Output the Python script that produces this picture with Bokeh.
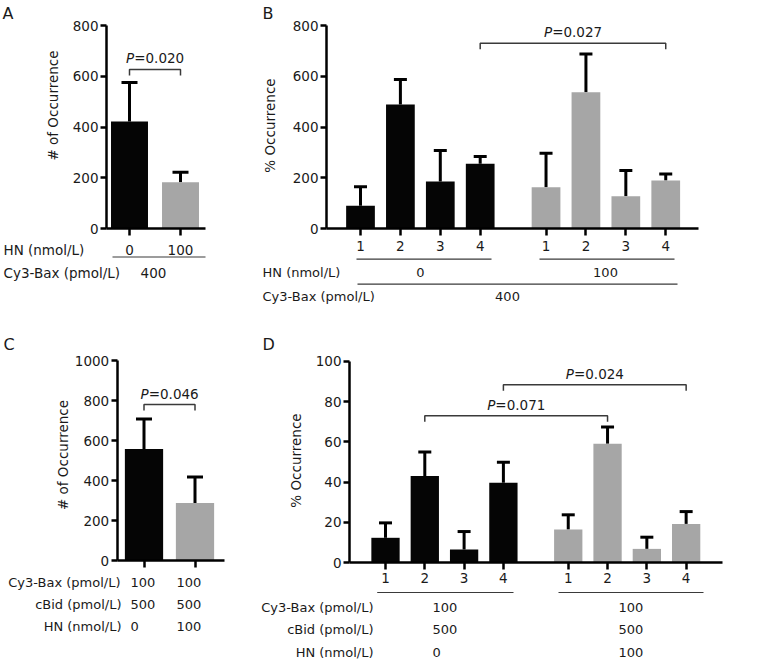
import math
from bokeh.plotting import figure
from bokeh.models import LinearAxis, FixedTicker, Range1d, Whisker, TeeHead, ColumnDataSource
from bokeh.layouts import column, row
from bokeh.embed import file_html
from bokeh.resources import INLINE
from bokeh.core.properties import value

FONT = "DejaVu Sans"
FS = "13px"
TICK_FS = "13.5px"
BLACK = "#050505"
GRAY = "#a6a6a6"
TXT = "#1a1a1a"
LINE = "#3a3a3a"

# ---------------- data ----------------
# Panel A
A_hn = ["0", "100"]
A_mean = [422, 182]
A_sd = [153, 40]
A_p = "0.020"
A_bax = "400"

# Panel B  (conformation classes 1-4, HN 0 vs 100 nmol/L)
B_class = ["1", "2", "3", "4"]
B_hn0_mean = [90, 489, 185, 255]
B_hn0_sd = [75, 98, 122, 29]
B_hn100_mean = [163, 537, 127, 189]
B_hn100_sd = [134, 151, 102, 26]
B_hn = ["0", "100"]
B_bax = "400"
B_p = "0.027"

# Panel C
C_mean = [558, 288]
C_sd = [150, 129]
C_bax = ["100", "100"]
C_cbid = ["500", "500"]
C_hn = ["0", "100"]
C_p = "0.046"

# Panel D
D_class = ["1", "2", "3", "4"]
D_hn0_mean = [12.4, 43, 6.6, 39.7]
D_hn0_sd = [7.4, 11.9, 8.9, 10.2]
D_hn100_mean = [16.5, 59, 6.9, 19.3]
D_hn100_sd = [7.3, 8.3, 5.8, 6.1]
D_bax = ["100", "100"]
D_cbid = ["500", "500"]
D_hn = ["0", "100"]
D_p = ["0.071", "0.024"]

POS_2 = [1, 2]
POS_8 = [1, 2, 3, 4, 5.65, 6.65, 7.65, 8.65]


def lin(pa, va, pb, vb):
    k = (vb - va) / (pb - pa)
    return (lambda p: va + (p - pa) * k), abs(k)


class Panel:
    def __init__(self, box, xm, ym):
        x0, y0, x1, y1 = box
        self.X, self.kx = lin(*xm)
        self.Y, self.ky = lin(*ym)
        self.p = figure(width=x1 - x0, height=y1 - y0,
                        x_range=Range1d(self.X(x0), self.X(x1)),
                        y_range=Range1d(self.Y(y1), self.Y(y0)),
                        x_axis_location=None, y_axis_location=None,
                        toolbar_location=None, output_backend="svg", tools="",
                        min_border=0, outline_line_color=None,
                        background_fill_color="white", border_fill_color="white")
        self.p.grid.grid_line_color = None

    def axes(self, ax_px, xend_px, yticks, xticks, xlabels, x_standoff, show_xlabels=True):
        p = self.p
        common = dict(axis_line_width=2.5, axis_line_color="black",
                      major_tick_line_width=2.5, major_tick_line_color="black",
                      major_tick_in=0, minor_tick_in=0, minor_tick_out=0,
                      major_label_text_font=FONT, major_label_text_font_size=TICK_FS,
                      major_label_text_color=TXT)
        ya = LinearAxis(fixed_location=self.X(ax_px), bounds=(yticks[0], yticks[-1]),
                        ticker=FixedTicker(ticks=yticks), major_tick_out=6,
                        major_label_standoff=2, **common)
        p.add_layout(ya, "left")
        xa = LinearAxis(fixed_location=0, bounds=(self.X(ax_px), self.X(xend_px)),
                        ticker=FixedTicker(ticks=xticks), major_tick_out=7,
                        major_label_standoff=x_standoff,
                        major_label_overrides={t: l for t, l in zip(xticks, xlabels)},
                        **common)
        if not show_xlabels:
            xa.major_label_text_alpha = 0
        p.add_layout(xa, "below")

    def ylabel(self, px, py, s):
        self.p.text(x=[self.X(px)], y=[self.Y(py)], text=[s], angle=math.pi / 2,
                    text_align="center", text_baseline="middle", text_font=value(FONT),
                    text_font_size=TICK_FS, text_color=TXT)

    def bars(self, xs, means, sds, colors, width, cap):
        if isinstance(colors, str):
            colors = [colors] * len(xs)
        src = ColumnDataSource(dict(x=xs, top=means, color=colors,
                                    up=[m + s for m, s in zip(means, sds)]))
        self.p.vbar(x="x", top="top", bottom=0, width=width, source=src,
                    fill_color="color", line_color=None)
        self.p.add_layout(Whisker(base="x", lower="top", upper="up", source=src,
                                  dimension="height", line_width=3, line_color="black",
                                  upper_head=TeeHead(size=cap, line_width=3, line_color="black"),
                                  lower_head=None))

    def text(self, px, py, s, align="left", size=FS, style="normal"):
        self.p.text(x=[self.X(px)], y=[self.Y(py)], text=[s], text_align=align,
                    text_baseline="middle", text_font=value(FONT), text_font_size=size,
                    text_font_style=style, text_color=TXT)

    def hline(self, px1, px2, py):
        self.p.segment(x0=[self.X(px1)], x1=[self.X(px2)], y0=[self.Y(py)], y1=[self.Y(py)],
                       line_color=LINE, line_width=1.2)

    def bracket(self, xa, xb, ytop, pval):
        drop = 6 * self.ky
        self.p.multi_line(xs=[[xa, xa, xb, xb]], ys=[[ytop - drop, ytop, ytop, ytop - drop]],
                          line_color=LINE, line_width=1.5)
        c = (xa + xb) / 2
        split = c - 20.8 * self.kx
        ty = ytop + 11 * self.ky
        self.p.text(x=[split], y=[ty], text=["P"], text_align="right", text_baseline="middle",
                    text_font=value(FONT), text_font_size=TICK_FS, text_font_style="italic",
                    text_color=TXT)
        self.p.text(x=[split], y=[ty], text=["=" + pval], text_align="left",
                    text_baseline="middle", text_font=value(FONT), text_font_size=TICK_FS,
                    text_color=TXT)


# ---------------- Panel A ----------------
A = Panel((0, 0, 230, 330), (129, 1, 180, 2), (228, 0, 25, 800))
A.bars(POS_2, A_mean, A_sd, [BLACK, GRAY], 0.725, 16)
A.axes(106, 205, [0, 200, 400, 600, 800], POS_2, A_hn, 9)
A.ylabel(52, 105, "# of Occurrence")
A.bracket(POS_2[0], POS_2[1], 627, A_p)
A.text(2, 12.5, "A", size="16px")
A.text(3, 249.5, "HN (nmol/L)", size="13.5px")
A.hline(112, 205, 256.5)
A.text(3, 272, "Cy3-Bax (pmol/L)", size="13.5px")
A.text(153, 272, A_bax, align="center", size="13.5px")

# ---------------- Panel B ----------------
B = Panel((230, 0, 765, 330), (360, 1, 479.7, 4), (228, 0, 25, 800))
B.bars(POS_8[:4], B_hn0_mean, B_hn0_sd, BLACK, 0.72, 13)
B.bars(POS_8[4:], B_hn100_mean, B_hn100_sd, GRAY, 0.72, 13)
B.axes(326, 698, [0, 200, 400, 600, 800], POS_8, B_class * 2, 5)
B.ylabel(269, 125, "% Occurrence")
B.bracket(POS_8[3], POS_8[7], 730, B_p)
B.text(262, 13, "B", size="16px")
B.hline(356, 491, 258.7)
B.hline(539, 674, 258.7)
B.text(262, 272, "HN (nmol/L)")
B.text(420, 272, B_hn[0], align="center")
B.text(605, 272, B_hn[1], align="center")
B.hline(357, 677, 283.7)
B.text(262, 296, "Cy3-Bax (pmol/L)")
B.text(507, 296, B_bax, align="center")

# ---------------- Panel C ----------------
C = Panel((0, 330, 230, 660), (143.5, 1, 194.5, 2), (560, 0, 360, 1000))
C.bars(POS_2, C_mean, C_sd, [BLACK, GRAY], 0.75, 16)
C.axes(116.7, 224, [0, 200, 400, 600, 800, 1000], POS_2, ["", ""], 4, show_xlabels=False)
C.ylabel(62, 454.5, "# of Occurrence")
C.bracket(POS_2[0], POS_2[1], 780, C_p)
C.text(3, 343.5, "C", size="16px")
C.text(120, 582, "Cy3-Bax (pmol/L)", align="right")
C.text(121, 604, "cBid (pmol/L)", align="right")
C.text(121, 626, "HN (nmol/L)", align="right")
for col_px, i in ((130, 0), (176, 1)):
    C.text(col_px, 582, C_bax[i])
    C.text(col_px, 604, C_cbid[i])
    C.text(col_px, 626, C_hn[i])

# ---------------- Panel D ----------------
D = Panel((230, 330, 765, 660), (385, 1, 502.9, 4), (562.3, 0, 360.7, 100))
D.bars(POS_8[:4], D_hn0_mean, D_hn0_sd, BLACK, 0.72, 13)
D.bars(POS_8[4:], D_hn100_mean, D_hn100_sd, GRAY, 0.72, 13)
D.axes(349, 722, [0, 20, 40, 60, 80, 100], POS_8, D_class * 2, 3)
D.ylabel(295, 460, "% Occurrence")
D.bracket(POS_8[1], POS_8[5], 73, D_p[0])
D.bracket(POS_8[3], POS_8[7], 88.3, D_p[1])
D.text(262, 344, "D", size="16px")
D.hline(376.7, 513, 592)
D.hline(558, 703, 592)
D.text(373, 606.7, "Cy3-Bax (pmol/L)", align="right")
D.text(373, 629, "cBid (pmol/L)", align="right")
D.text(373, 651.7, "HN (nmol/L)", align="right")
for col_px, i in ((432, 0), (618, 1)):
    D.text(col_px, 606.7, D_bax[i])
    D.text(col_px, 629, D_cbid[i])
    D.text(col_px, 651.7, D_hn[i])

layout = column(row(A.p, B.p), row(C.p, D.p))
open("out.html", "w").write(file_html(layout, INLINE))
